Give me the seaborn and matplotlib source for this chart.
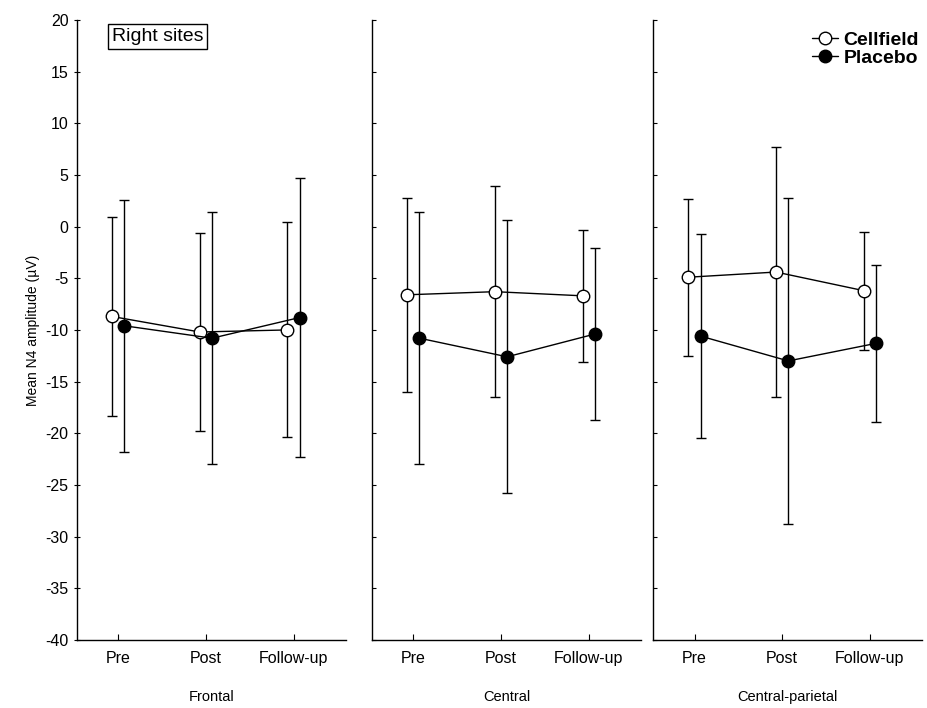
import numpy as np
import pandas as pd
import matplotlib
matplotlib.use("Agg")
import matplotlib.pyplot as plt
import seaborn as sns

sessions = ["Pre", "Post", "Follow-up"]
regions = ["Frontal", "Central", "Central-parietal"]
groups = ["Cellfield", "Placebo"]

# means and half-widths of the error bars, per region
cellfield_mean = {"Frontal": [-8.7, -10.2, -10.0],
                  "Central": [-6.6, -6.3, -6.7],
                  "Central-parietal": [-4.9, -4.4, -6.2]}
cellfield_err = {"Frontal": [9.6, 9.6, 10.4],
                 "Central": [9.4, 10.2, 6.4],
                 "Central-parietal": [7.6, 12.1, 5.7]}
placebo_mean = {"Frontal": [-9.6, -10.8, -8.8],
                "Central": [-10.8, -12.6, -10.4],
                "Central-parietal": [-10.6, -13.0, -11.3]}
placebo_err = {"Frontal": [12.2, 12.2, 13.5],
               "Central": [12.2, 13.2, 8.3],
               "Central-parietal": [9.9, 15.8, 7.6]}

rows = []
for r in regions:
    for i, s in enumerate(sessions):
        rows.append({"region": r, "session": s, "idx": i, "group": "Cellfield",
                     "mean": cellfield_mean[r][i], "err": cellfield_err[r][i]})
        rows.append({"region": r, "session": s, "idx": i, "group": "Placebo",
                     "mean": placebo_mean[r][i], "err": placebo_err[r][i]})
df = pd.DataFrame(rows)

sns.set_style("ticks")
plt.rcParams['font.family'] = ['Liberation Sans', 'DejaVu Sans']
plt.rcParams['axes.unicode_minus'] = False
plt.rcParams['text.color'] = 'black'
plt.rcParams['xtick.color'] = 'black'
plt.rcParams['ytick.color'] = 'black'
plt.rcParams['axes.labelcolor'] = 'black'
plt.rcParams['axes.edgecolor'] = 'black'

offset = {"Cellfield": -0.07, "Placebo": 0.07}
face = {"Cellfield": "white", "Placebo": "black"}
df["x"] = df["idx"] + df["group"].map(offset)

fig = plt.figure(figsize=(9.28, 7.08), dpi=100)
lefts = [0.083, 0.401, 0.704]
axes = []
for k, r in enumerate(regions):
    ax = fig.add_axes([lefts[k], 0.096, 0.29, 0.876], sharey=axes[0] if axes else None)
    axes.append(ax)
    sub = df[df.region == r]
    for g in groups:
        d = sub[sub.group == g]
        ax.errorbar(d["x"], d["mean"], yerr=d["err"], fmt="none", ecolor="black",
                    elinewidth=1.0, capsize=3.5, capthick=1.0, zorder=1)
        sns.lineplot(data=d, x="x", y="mean", ax=ax, color="black", linewidth=1.0,
                     marker="o", markersize=9, markerfacecolor=face[g],
                     markeredgecolor="black", markeredgewidth=1.0, label=g,
                     zorder=3, legend=False)
    ax.set_xlim(-0.47, 2.6)
    ax.set_ylim(-40, 20)
    ax.set_yticks(np.arange(-40, 21, 5))
    ax.set_xticks(range(len(sessions)))
    ax.set_xticklabels(sessions, fontsize=11.5)
    ax.set_xlabel(r, fontsize=10.5, labelpad=17)
    ax.set_ylabel("")
    ax.tick_params(axis="x", direction="in", length=4, pad=8)
    ax.tick_params(axis="y", direction="inout", length=5, labelsize=11.5)
    sns.despine(ax=ax)
    for sp in ax.spines.values():
        sp.set_linewidth(1.0)
    if k > 0:
        ax.tick_params(axis="y", labelleft=False, direction="in", length=3)

axes[0].set_ylabel("Mean N4 amplitude (µV)", fontsize=10)
axes[0].text(0.30, 0.973, "Right sites", transform=axes[0].transAxes, ha="center",
             va="center", fontsize=14,
             bbox=dict(boxstyle="square,pad=0.2", facecolor="white", edgecolor="black", linewidth=1))

handles = [plt.Line2D([], [], color="black", marker="o", markersize=9, linewidth=1.0,
                      markerfacecolor=face[g], markeredgecolor="black") for g in groups]
leg = axes[2].legend(handles, groups, loc="upper right", bbox_to_anchor=(1.03, 1.0),
                     frameon=False, handlelength=1.3, handletextpad=0.3,
                     labelspacing=0.0, borderaxespad=0.2,
                     prop={"size": 14, "weight": "bold"})

fig.savefig("out.png", dpi=100)
